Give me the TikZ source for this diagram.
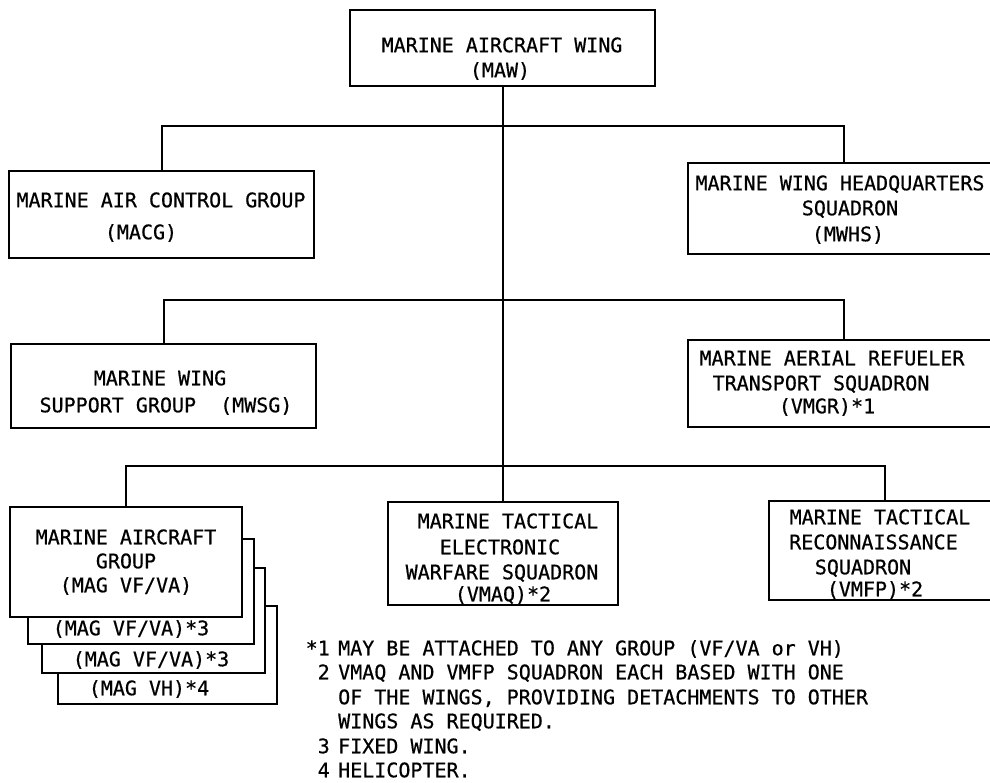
\documentclass[tikz,border=0pt]{standalone}
\usepackage{fontspec}
\newfontfamily\lett[FakeBold=0.6]{DejaVu Sans Mono}
\tikzset{
  boxst/.style={draw, line width=2pt, fill=white, inner sep=0pt, rectangle},
  tx/.style={font=\lett\fontsize{20}{24}\selectfont, inner sep=0pt, text height=14.5pt, text depth=0pt},
  conn/.style={line width=2pt}
}
\newcommand{\mybox}[5]{\node[boxst, minimum width={(#4)-(#2)}, minimum height={(#5)-(#3)}] (#1) at ({((#2)+(#4))/2},{((#3)+(#5))/2}) {};}
\begin{document}
\begin{tikzpicture}[x=1pt,y=-1pt]
\useasboundingbox (0,0) rectangle (990,783);
\clip (0,0) rectangle (990,783);
% boxes
\mybox{maw}{350}{10}{655}{86}
\mybox{macg}{9}{171}{314}{258}
\mybox{mwhs}{688}{163}{1000}{254}
\mybox{mwsg}{11}{344}{316}{428}
\mybox{vmgr}{688}{340}{1000}{427}
\mybox{mag4}{58}{606}{277}{704}
\mybox{mag3}{42}{568}{265}{673}
\mybox{mag2}{28}{539}{254}{644}
\mybox{mag}{10}{507}{242}{617}
\mybox{vmaq}{388}{502}{618}{605}
\mybox{vmfp}{769}{501}{1000}{600}
% junction coordinates
\coordinate (b1) at (503,126);
\coordinate (b2) at (503,300);
\coordinate (b3) at (503,466);
% connectors
\draw[conn] (maw.south) -- (maw.south |- vmaq.north);
\draw[conn] (macg.north) |- (mwhs.north |- b1) -- (mwhs.north);
\draw[conn] (mwsg.north) |- (vmgr.north |- b2) -- (vmgr.north);
\draw[conn] (mag.north) |- (vmfp.north |- b3) -- (vmfp.north);
% texts
\node[tx] (t1) at (502,45) {MARINE AIRCRAFT WING};
\node[tx] (t2) at (500,70) {(MAW)};
\node[tx] (t3) at (161,200) {MARINE AIR CONTROL GROUP};
\node[tx] (t4) at (141,232) {(MACG)};
\node[tx] (t5) at (840,183) {MARINE WING HEADQUARTERS};
\node[tx] (t6) at (850,208) {SQUADRON};
\node[tx] (t7) at (848,234) {(MWHS)};
\node[tx] (t8) at (160,378) {MARINE WING};
\node[tx] (t9) at (166,405) {SUPPORT GROUP\ \ (MWSG)};
\node[tx] (t10) at (832,358) {MARINE AERIAL REFUELER};
\node[tx] (t11) at (821,383) {TRANSPORT SQUADRON};
\node[tx] (t12) at (827,406) {(VMGR)*1};
\node[tx] (t13) at (126,537) {MARINE AIRCRAFT};
\node[tx] (t14) at (126,561) {GROUP};
\node[tx] (t15) at (126,585) {(MAG VF/VA)};
\node[tx] (t16) at (131,628) {(MAG VF/VA)*3};
\node[tx] (t17) at (151,659) {(MAG VF/VA)*3};
\node[tx] (t18) at (149,688) {(MAG VH)*4};
\node[tx] (t19) at (508,521) {MARINE TACTICAL};
\node[tx] (t20) at (500,547) {ELECTRONIC};
\node[tx] (t21) at (502,572) {WARFARE SQUADRON};
\node[tx] (t22) at (503,594) {(VMAQ)*2};
\node[tx] (t23) at (880,517) {MARINE TACTICAL};
\node[tx, anchor=west] (t24) at (789,542) {RECONNAISSANCE};
\node[tx] (t25) at (863,567) {SQUADRON};
\node[tx] (t26) at (875,589) {(VMFP)*2};
% footnotes
\node[tx, anchor=east] (n1) at (330,648) {*1};
\node[tx, anchor=west] (f1) at (338,648) {MAY BE ATTACHED TO ANY GROUP (VF/VA or VH)};
\node[tx, anchor=east] (n2) at (330,672) {2};
\node[tx, anchor=west] (f2) at (338,672) {VMAQ AND VMFP SQUADRON EACH BASED WITH ONE};
\node[tx, anchor=west] (f3) at (338,697) {OF THE WINGS, PROVIDING DETACHMENTS TO OTHER};
\node[tx, anchor=west] (f4) at (338,721) {WINGS AS REQUIRED.};
\node[tx, anchor=east] (n3) at (330,746) {3};
\node[tx, anchor=west] (f5) at (338,746) {FIXED WING.};
\node[tx, anchor=east] (n4) at (330,770) {4};
\node[tx, anchor=west] (f6) at (338,770) {HELICOPTER.};
\end{tikzpicture}
\end{document}
